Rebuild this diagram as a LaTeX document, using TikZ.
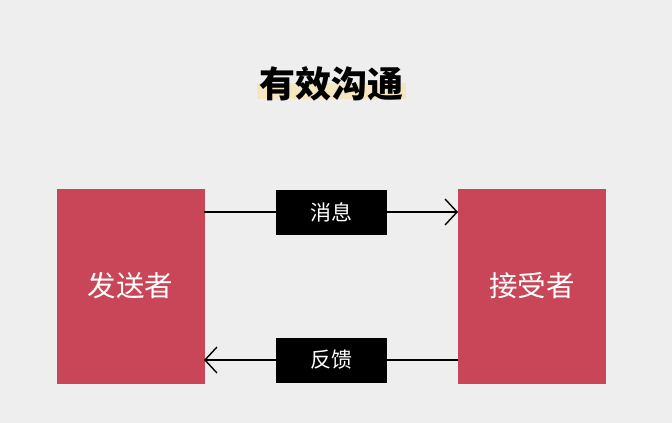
\documentclass[tikz,border=0pt]{standalone}
\usepackage{fontspec}
\setmainfont{Noto Sans CJK SC}
\usetikzlibrary{arrows.meta}
\definecolor{bgc}{HTML}{EEEEEE}
\definecolor{boxred}{HTML}{C84658}
\definecolor{hl}{HTML}{F3E6C0}
\tikzset{
  party/.style={fill=boxred, draw=none, minimum width=148pt, minimum height=195pt, inner sep=0pt, text=white, font=\fontsize{28.5}{32}\selectfont},
  msgbox/.style={fill=black, draw=none, minimum width=111pt, minimum height=45pt, inner sep=0pt, text=white, font=\fontsize{21}{24}\selectfont},
  flow/.style={line width=1.4pt, -{Straight Barb[length=12pt,width=26pt,line width=1.4pt]}}
}
\begin{document}
\begin{tikzpicture}[x=1pt,y=-1pt]
\fill[bgc] (0,0) rectangle (672,423);
\useasboundingbox (0,0) rectangle (672,423);
\fill[hl] (257,83) rectangle (406,99);
\node[font=\fontsize{36}{42}\selectfont\bfseries, inner sep=0pt] (title) at (331,84) {有效沟通};
\node[party] (send) at (130.5,286) {发送者};
\node[party] (recv) at (532,286) {接受者};
\coordinate (s1) at (204,212);
\coordinate (r1) at (458,212);
\coordinate (s2) at (204,360);
\coordinate (r2) at (458,360);
\draw[flow] (s1) -- node[msgbox] (msg) {消息} (r1);
\draw[flow] (r2) -- node[msgbox] (fb) {反馈} (s2);
\end{tikzpicture}
\end{document}
